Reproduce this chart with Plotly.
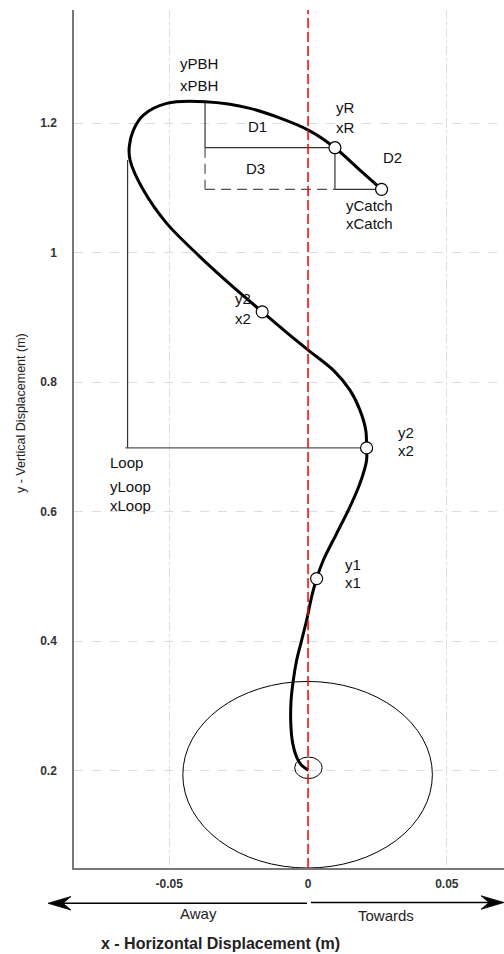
import plotly.graph_objects as go

# ---------------- data ----------------
path_x = [0.0001, -0.0023, -0.0041, -0.0055, -0.0062, -0.0061, -0.0053, -0.0041,
          -0.0023, -0.0005, 0.0013, 0.0031, 0.0055, 0.0103, 0.0151, 0.0187, 0.0211,
          0.0211, 0.0208, 0.0187, 0.0151, 0.0091, 0.0001, -0.0083, -0.0165,
          -0.0269, -0.0389, -0.0509, -0.0593, -0.0641, -0.0644, -0.0629, -0.0593,
          -0.0509, -0.0371, -0.0209, 0.0001, 0.0097, 0.0187, 0.0265]
path_y = [0.2008, 0.2085, 0.2213, 0.2420, 0.2729, 0.3089, 0.3398, 0.3707,
          0.4015, 0.4324, 0.4684, 0.4968, 0.5251, 0.5663, 0.6074, 0.6435, 0.6795,
          0.6985, 0.7259, 0.7568, 0.7876, 0.8185, 0.8494, 0.8788, 0.9086,
          0.9467, 0.9935, 1.0451, 1.0965, 1.1429, 1.1634, 1.1892, 1.2124,
          1.2304, 1.2329, 1.2227, 1.1892, 1.1619, 1.1274, 1.0976]

# key events: x1, x2 (right), x2 (upper), R, Catch
event_names = ["1", "2", "2u", "R", "Catch"]
event_x = [0.0031, 0.0211, -0.0165, 0.0097, 0.0265]
event_y = [0.4968, 0.6985, 0.9086, 1.1619, 1.0976]

pbh_x, pbh_y = -0.0371, 1.2329          # highest point (PBH)
loop_x, loop_top_y = -0.0650, 1.1430    # loop reference

# big and small reference circles (x0, x1, y0, y1)
big_circle = [-0.0451, 0.0448, 0.050, 0.338]
small_circle = [-0.0048, 0.0051, 0.188, 0.2213]

x_ticks = [-0.05, 0, 0.05]
x_tick_text = ["-0.05", "0", "0.05"]
y_ticks = [0.2, 0.4, 0.6, 0.8, 1.0, 1.2]
y_tick_text = ["0.2", "0.4", "0.6", "0.8", "1", "1.2"]

x_range = [-0.0843, 0.0706]
y_range = [0.050, 1.3745]

# ---------------- figure ----------------
W, H = 504, 954
L, R, T, B = 74, 0, 10, 86
FONT = "Liberation Sans, Arial, sans-serif"

def px_paper(px, py):
    return (px - L) / (W - L - R), (H - B - py) / (H - T - B)

fig = go.Figure()

ev = dict(zip(event_names, zip(event_x, event_y)))
xR, yR = ev["R"]
xC, yC = ev["Catch"]
x2, y2 = ev["2"]

thin = dict(color="#333333", width=1.2)
dash_l = dict(color="#555555", width=1.2, dash="10px,6px")

# helper lines
fig.add_trace(go.Scatter(x=[pbh_x, pbh_x], y=[pbh_y, yR], mode="lines", line=thin, hoverinfo="skip"))
fig.add_trace(go.Scatter(x=[pbh_x, pbh_x], y=[yR, yC], mode="lines", line=dash_l, hoverinfo="skip"))
fig.add_trace(go.Scatter(x=[pbh_x, xR], y=[yR, yR], mode="lines", line=thin, hoverinfo="skip"))
fig.add_trace(go.Scatter(x=[xR, xR], y=[yR, yC], mode="lines", line=thin, hoverinfo="skip"))
fig.add_trace(go.Scatter(x=[pbh_x, xR], y=[yC, yC], mode="lines", line=dash_l, hoverinfo="skip"))
fig.add_trace(go.Scatter(x=[xR, xC], y=[yC, yC], mode="lines", line=thin, hoverinfo="skip"))
fig.add_trace(go.Scatter(x=[loop_x, loop_x], y=[loop_top_y, y2], mode="lines", line=thin, hoverinfo="skip"))
fig.add_trace(go.Scatter(x=[loop_x - 0.0008, x2], y=[y2, y2], mode="lines",
                         line=dict(color="#555555", width=1.2), hoverinfo="skip"))

# trajectory
fig.add_trace(go.Scatter(x=path_x, y=path_y, mode="lines",
                         line=dict(color="black", width=3, shape="spline", smoothing=0.9),
                         hoverinfo="skip"))
# event markers
fig.add_trace(go.Scatter(x=event_x, y=event_y, mode="markers",
                         marker=dict(size=12, color="white", line=dict(color="black", width=1.2)),
                         hoverinfo="skip"))

# shapes
shapes = [
    dict(type="circle", xref="x", yref="y", x0=big_circle[0], x1=big_circle[1],
         y0=big_circle[2], y1=big_circle[3], line=dict(color="black", width=1), layer="between"),
    dict(type="circle", xref="x", yref="y", x0=small_circle[0], x1=small_circle[1],
         y0=small_circle[2], y1=small_circle[3], line=dict(color="black", width=1), layer="between"),
    dict(type="line", xref="x", yref="paper", x0=0, x1=0, y0=0, y1=1,
         line=dict(color="red", width=1.5, dash="10px,4px"), layer="above"),
]

# direction arrows under the x-axis (decoration, in pixel-derived paper coords)
def seg(p0, p1, width=1.4):
    a, b = px_paper(*p0), px_paper(*p1)
    shapes.append(dict(type="line", xref="paper", yref="paper", x0=a[0], y0=a[1],
                       x1=b[0], y1=b[1], line=dict(color="black", width=width)))

def head(pts):
    cs = [px_paper(*p) for p in pts]
    path = "M " + " L ".join(f"{c[0]:.5f},{c[1]:.5f}" for c in cs) + " Z"
    shapes.append(dict(type="path", xref="paper", yref="paper", path=path,
                       fillcolor="black", line=dict(color="black", width=0.8)))

seg((60, 903.3), (307, 903.3))
seg((311, 902.5), (492, 902.5))
head([(48, 903.3), (71, 896.5), (63, 903.3), (71, 910.0)])
head([(504, 902.5), (481, 895.8), (489, 902.5), (481, 909.3)])

ann = []
def lab(text, x, y, dx, dy, anchor="left", size=15):
    ann.append(dict(text=text, x=x, y=y, xref="x", yref="y", xshift=dx, yshift=dy,
                    showarrow=False, xanchor=anchor, yanchor="middle",
                    font=dict(family=FONT, size=size, color="#111111")))

x1p, y1p = ev["1"]
x2u, y2u = ev["2u"]
lab("y1", x1p, y1p, 26, 14); lab("x1", x1p, y1p, 26, -4)
lab("y2", x2, y2, 29, 15); lab("x2", x2, y2, 29, -3)
lab("y2", x2u, y2u, -29, 13); lab("x2", x2u, y2u, -29, -7)
lab("yR", xR, yR, -1, 40); lab("xR", xR, yR, -1, 20)
lab("yCatch", xC, yC, -38, -16); lab("xCatch", xC, yC, -38, -34)
lab("D2", xC, yC, 11, 32, anchor="center")
lab("yPBH", pbh_x, pbh_y, -27, 38); lab("xPBH", pbh_x, pbh_y, -27, 16)
lab("D1", (pbh_x + xR) / 2, yR, -12, 21, anchor="center")
lab("D3", (pbh_x + xR) / 2, (yR + yC) / 2, -14, 0, anchor="center")
lab("Loop", loop_x - 0.0008, y2, -17.6, -15)
lab("yLoop", loop_x - 0.0008, y2, -17.6, -39)
lab("xLoop", loop_x - 0.0008, y2, -17.6, -58)

def plab(text, px, py, size, bold=False, angle=0, color="#222222"):
    x, y = px_paper(px, py)
    ann.append(dict(text=f"<b>{text}</b>" if bold else text, x=x, y=y, xref="paper", yref="paper",
                    showarrow=False, xanchor="center", yanchor="middle", textangle=angle,
                    font=dict(family=FONT, size=size, color=color)))

plab("Away", 198, 913, 15)
plab("Towards", 386, 915, 15)
plab("x - Horizontal Displacement (m)", 220, 943, 16, bold=True)
plab("y - Vertical Displacement (m)", 21, 413, 12.5, angle=-90, color="#222222")

fig.update_layout(
    width=W, height=H, margin=dict(l=L, r=R, t=T, b=B),
    paper_bgcolor="white", plot_bgcolor="white", showlegend=False,
    shapes=shapes, annotations=ann,
    font=dict(family=FONT),
    xaxis=dict(range=x_range, tickvals=x_ticks, ticktext=x_tick_text,
               showgrid=True, gridcolor="#dddddd", gridwidth=1, griddash="dashdot",
               zeroline=False, showline=True, linecolor="#777777", linewidth=1.5,
               ticks="outside", ticklen=4, tickcolor="rgba(0,0,0,0)",
               tickfont=dict(family=FONT, size=12, color="#333333", weight="bold"),
               fixedrange=True),
    yaxis=dict(range=y_range, tickvals=y_ticks, ticktext=y_tick_text,
               showgrid=True, gridcolor="#dddddd", gridwidth=1, griddash="dash",
               zeroline=False, showline=True, linecolor="#777777", linewidth=1.5,
               ticks="outside", ticklen=13, tickcolor="rgba(0,0,0,0)",
               tickfont=dict(family=FONT, size=12, color="#333333", weight="bold"),
               fixedrange=True),
)

fig.write_html("out.html")
